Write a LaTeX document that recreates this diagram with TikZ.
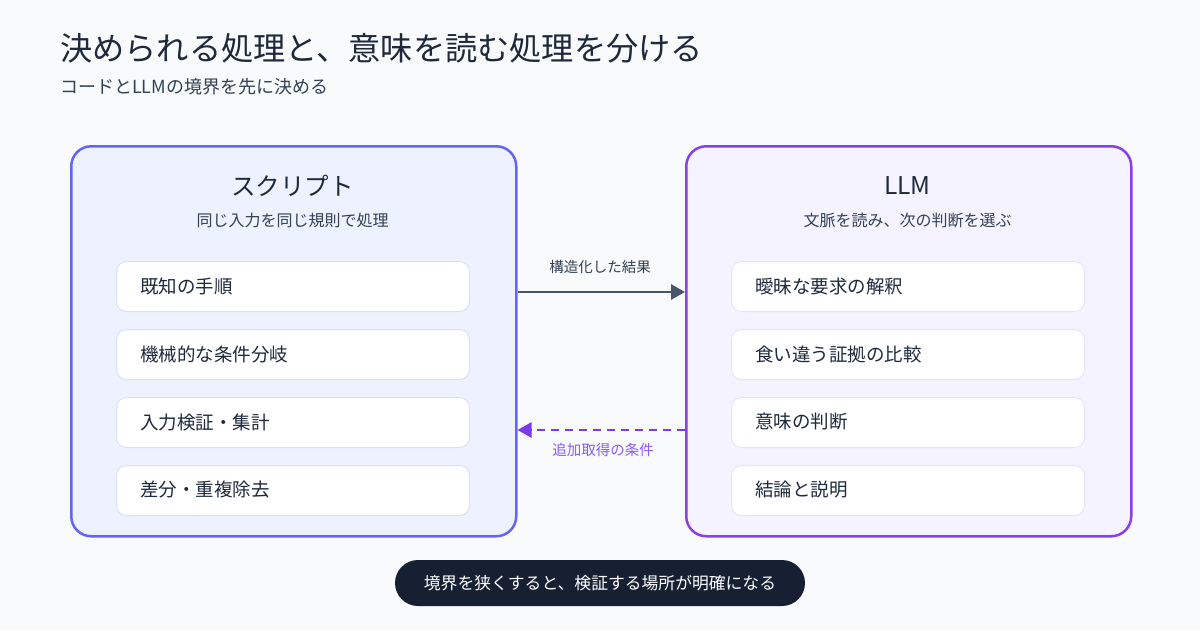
\documentclass[tikz,border=0pt]{standalone}
\usepackage{fontspec}
\setmainfont{Noto Sans CJK JP}
\usetikzlibrary{arrows.meta,calc}
\definecolor{bg}{HTML}{F8FAFC}
\definecolor{ink}{HTML}{1E293B}
\definecolor{sub}{HTML}{334155}
\definecolor{slate}{HTML}{475569}
\definecolor{lborder}{HTML}{6366F1}
\definecolor{lfill}{HTML}{EEF2FF}
\definecolor{litem}{HTML}{D9DFFC}
\definecolor{rborder}{HTML}{8B3FE8}
\definecolor{rfill}{HTML}{F5F3FF}
\definecolor{ritem}{HTML}{E8E2FC}
\definecolor{violet}{HTML}{7C3AED}
\definecolor{violettext}{HTML}{8B5CF6}
\definecolor{navy}{HTML}{172033}
\tikzset{
  panel/.style={rounded corners=20pt, line width=2.5pt, minimum width=445pt, minimum height=390pt, anchor=north west, inner sep=0pt},
  itembox/.style={rounded corners=10pt, line width=1pt, fill=white, minimum width=353pt, minimum height=50pt, anchor=north west, inner sep=0pt},
  itemtext/.style={anchor=west, text=ink, font=\fontsize{18.5}{22}\selectfont, inner sep=0pt},
  ptitle/.style={text=ink, font=\fontsize{24.5}{28}\selectfont, inner sep=0pt},
  psub/.style={text=sub, font=\fontsize{16}{19}\selectfont, inner sep=0pt},
}
\begin{document}
\begin{tikzpicture}[x=1pt,y=-1pt]
\useasboundingbox[fill=bg] (0,0) rectangle (1200,630);
\node[anchor=west, text=ink, font=\fontsize{32.2}{36}\selectfont, inner sep=0pt] (title) at (60,48) {決められる処理と、意味を読む処理を分ける};
\node[anchor=west, text=sub, font=\fontsize{18}{22}\selectfont, inner sep=0pt] (subtitle) at (60,87) {コードとLLMの境界を先に決める};

\node[panel, draw=lborder, fill=lfill] (L) at (70,145) {};
\node[panel, draw=rborder, fill=rfill] (R) at (685,145) {};

\node[ptitle] (Lt) at (292.5,186) {スクリプト};
\node[psub] (Ls) at (292.5,220) {同じ入力を同じ規則で処理};
\node[ptitle] (Rt) at (907.5,186) {LLM};
\node[psub] (Rs) at (907.5,220) {文脈を読み、次の判断を選ぶ};

\foreach \i/\t [count=\k] in {0/既知の手順,1/機械的な条件分岐,2/入力検証・集計,3/差分・重複除去}{
  \node[itembox, draw=litem] (l\k) at (116,{261+68*\i}) {};
  \node[itemtext] (lt\k) at (140,{286+68*\i}) {\t};
}
\foreach \i/\t [count=\k] in {0/曖昧な要求の解釈,1/食い違う証拠の比較,2/意味の判断,3/結論と説明}{
  \node[itembox, draw=ritem] (r\k) at (731,{261+68*\i}) {};
  \node[itemtext] (rt\k) at (755,{286+68*\i}) {\t};
}

\coordinate (a1) at (L.east |- 0,292);
\coordinate (b1) at (R.west |- 0,292);
\draw[slate, line width=2.8pt, -{Triangle[length=14pt,width=15pt]}] (a1) -- (b1);
\node[text=sub, font=\fontsize{14.5}{17}\selectfont, inner sep=0pt] (lab1) at (600,267) {構造化した結果};

\coordinate (a2) at (R.west |- 0,430);
\coordinate (b2) at (L.east |- 0,430);
\draw[violet, line width=2.8pt, dash pattern=on 8pt off 6pt, -{Triangle[length=14pt,width=15pt]}] (a2) -- (b2);
\node[text=violettext, font=\fontsize{14.5}{17}\selectfont, inner sep=0pt] (lab2) at (603,450) {追加取得の条件};

\node[fill=navy, rounded corners=23pt, minimum width=410pt, minimum height=46pt, inner sep=0pt, text=white, font=\fontsize{16.8}{19}\selectfont] (pill) at (600,583) {境界を狭くすると、検証する場所が明確になる};
\end{tikzpicture}
\end{document}
